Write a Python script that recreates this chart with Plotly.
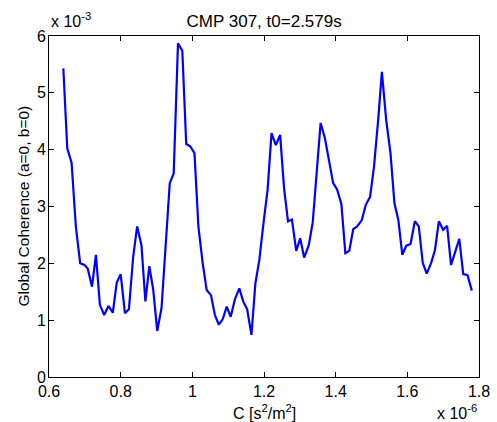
import plotly.graph_objects as go

# C values (x 1e-6 s^2/m^2)
c_vals = [0.640, 0.651, 0.663, 0.675, 0.687, 0.699, 0.708, 0.720, 0.731, 0.742,
          0.754, 0.766, 0.778, 0.789, 0.800, 0.812, 0.823, 0.835, 0.846, 0.858,
          0.869, 0.880, 0.891, 0.902, 0.914, 0.926, 0.937, 0.948, 0.960, 0.972,
          0.983, 0.994, 1.006, 1.017, 1.029, 1.040, 1.052, 1.063, 1.074, 1.085,
          1.096, 1.107, 1.119, 1.131, 1.142, 1.153, 1.165, 1.176, 1.187, 1.199,
          1.210, 1.221, 1.233, 1.245, 1.256, 1.267, 1.278, 1.290, 1.301, 1.312,
          1.325, 1.336, 1.347, 1.358, 1.370, 1.381, 1.393, 1.404, 1.416, 1.427,
          1.438, 1.449, 1.460, 1.473, 1.484, 1.496, 1.507, 1.519, 1.529, 1.541,
          1.553, 1.564, 1.575, 1.586, 1.597, 1.609, 1.621, 1.632, 1.643, 1.654,
          1.666, 1.677, 1.688, 1.700, 1.711, 1.722, 1.734, 1.745, 1.756, 1.768,
          1.780]

# Global coherence (x 1e-3)
coherence = [5.43, 4.02, 3.77, 2.64, 2.00, 1.97, 1.91, 1.59, 2.15, 1.27,
             1.09, 1.25, 1.13, 1.66, 1.81, 1.12, 1.19, 2.12, 2.65, 2.32,
             1.33, 1.95, 1.53, 0.81, 1.21, 2.29, 3.41, 3.58, 5.87, 5.74,
             4.10, 4.06, 3.94, 2.64, 2.00, 1.53, 1.44, 1.09, 0.92, 1.02,
             1.24, 1.06, 1.37, 1.56, 1.33, 1.19, 0.74, 1.65, 2.06, 2.73,
             3.29, 4.29, 4.08, 4.26, 3.32, 2.74, 2.77, 2.22, 2.44, 2.10,
             2.32, 2.72, 3.52, 4.47, 4.20, 3.82, 3.41, 3.30, 3.04, 2.18,
             2.22, 2.60, 2.65, 2.76, 3.03, 3.17, 3.70, 4.55, 5.37, 4.52,
             3.94, 3.06, 2.76, 2.15, 2.31, 2.34, 2.74, 2.65, 2.01, 1.82,
             2.00, 2.23, 2.74, 2.59, 2.66, 1.97, 2.20, 2.43, 1.81, 1.79,
             1.52]

x_ticks = [0.6, 0.8, 1.0, 1.2, 1.4, 1.6, 1.8]
x_tick_labels = ["0.6", "0.8", "1", "1.2", "1.4", "1.6", "1.8"]
y_ticks = [0, 1, 2, 3, 4, 5, 6]
y_tick_labels = ["0", "1", "2", "3", "4", "5", "6"]

title_text = "CMP 307, t0=2.579s"
x_title = "C [s<sup>2</sup>/m<sup>2</sup>]"
y_title = "Global Coherence (a=0, b=0)"

font_family = "Liberation Sans, Arial, sans-serif"

fig = go.Figure()
fig.add_trace(go.Scatter(x=c_vals, y=coherence, mode="lines",
                         line=dict(color="#0000ff", width=2.2),
                         showlegend=False, hoverinfo="skip"))

axis_common = dict(showline=True, linecolor="black", linewidth=1, mirror="ticks",
                   ticks="inside", ticklen=5, tickcolor="black", tickwidth=1,
                   showgrid=False, zeroline=False, automargin=False,
                   tickfont=dict(family=font_family, size=16, color="black"))

fig.update_layout(
    width=497, height=422,
    margin=dict(l=49, r=18, t=36, b=45),
    paper_bgcolor="white", plot_bgcolor="white",
    font=dict(family=font_family, size=16, color="black"),
    title=dict(text=title_text, x=0.5315, xanchor="center",
               y=0.951, yanchor="middle",
               font=dict(family=font_family, size=17, color="black")),
    xaxis=dict(range=[0.6, 1.8], tickvals=x_ticks, ticktext=x_tick_labels,
               ticklabelstandoff=0, **axis_common),
    yaxis=dict(range=[0, 6], tickvals=y_ticks, ticktext=y_tick_labels,
               ticklabelstandoff=-1, **axis_common),
)

# axis titles
fig.add_annotation(text=x_title, xref="paper", yref="paper",
                   x=0.5, y=0, xanchor="center", yanchor="middle", yshift=-35,
                   showarrow=False, font=dict(family=font_family, size=16))
fig.add_annotation(text=y_title, xref="paper", yref="paper",
                   x=0, y=0.5, xanchor="center", yanchor="middle", xshift=-26,
                   textangle=-90, showarrow=False,
                   font=dict(family=font_family, size=15.5))

# exponent multipliers
fig.add_annotation(text="x 10<sup>-3</sup>", xref="paper", yref="paper",
                   x=0, y=1, xanchor="left", yanchor="middle", yshift=16,
                   showarrow=False, font=dict(family=font_family, size=16))
fig.add_annotation(text="x 10<sup>-6</sup>", xref="paper", yref="paper",
                   x=1, y=0, xanchor="right", yanchor="middle", yshift=-35,
                   showarrow=False, font=dict(family=font_family, size=16))

fig.write_html("out.html", config={"displayModeBar": False},
               post_script="document.body.style.margin='0';document.body.style.padding='0';")
